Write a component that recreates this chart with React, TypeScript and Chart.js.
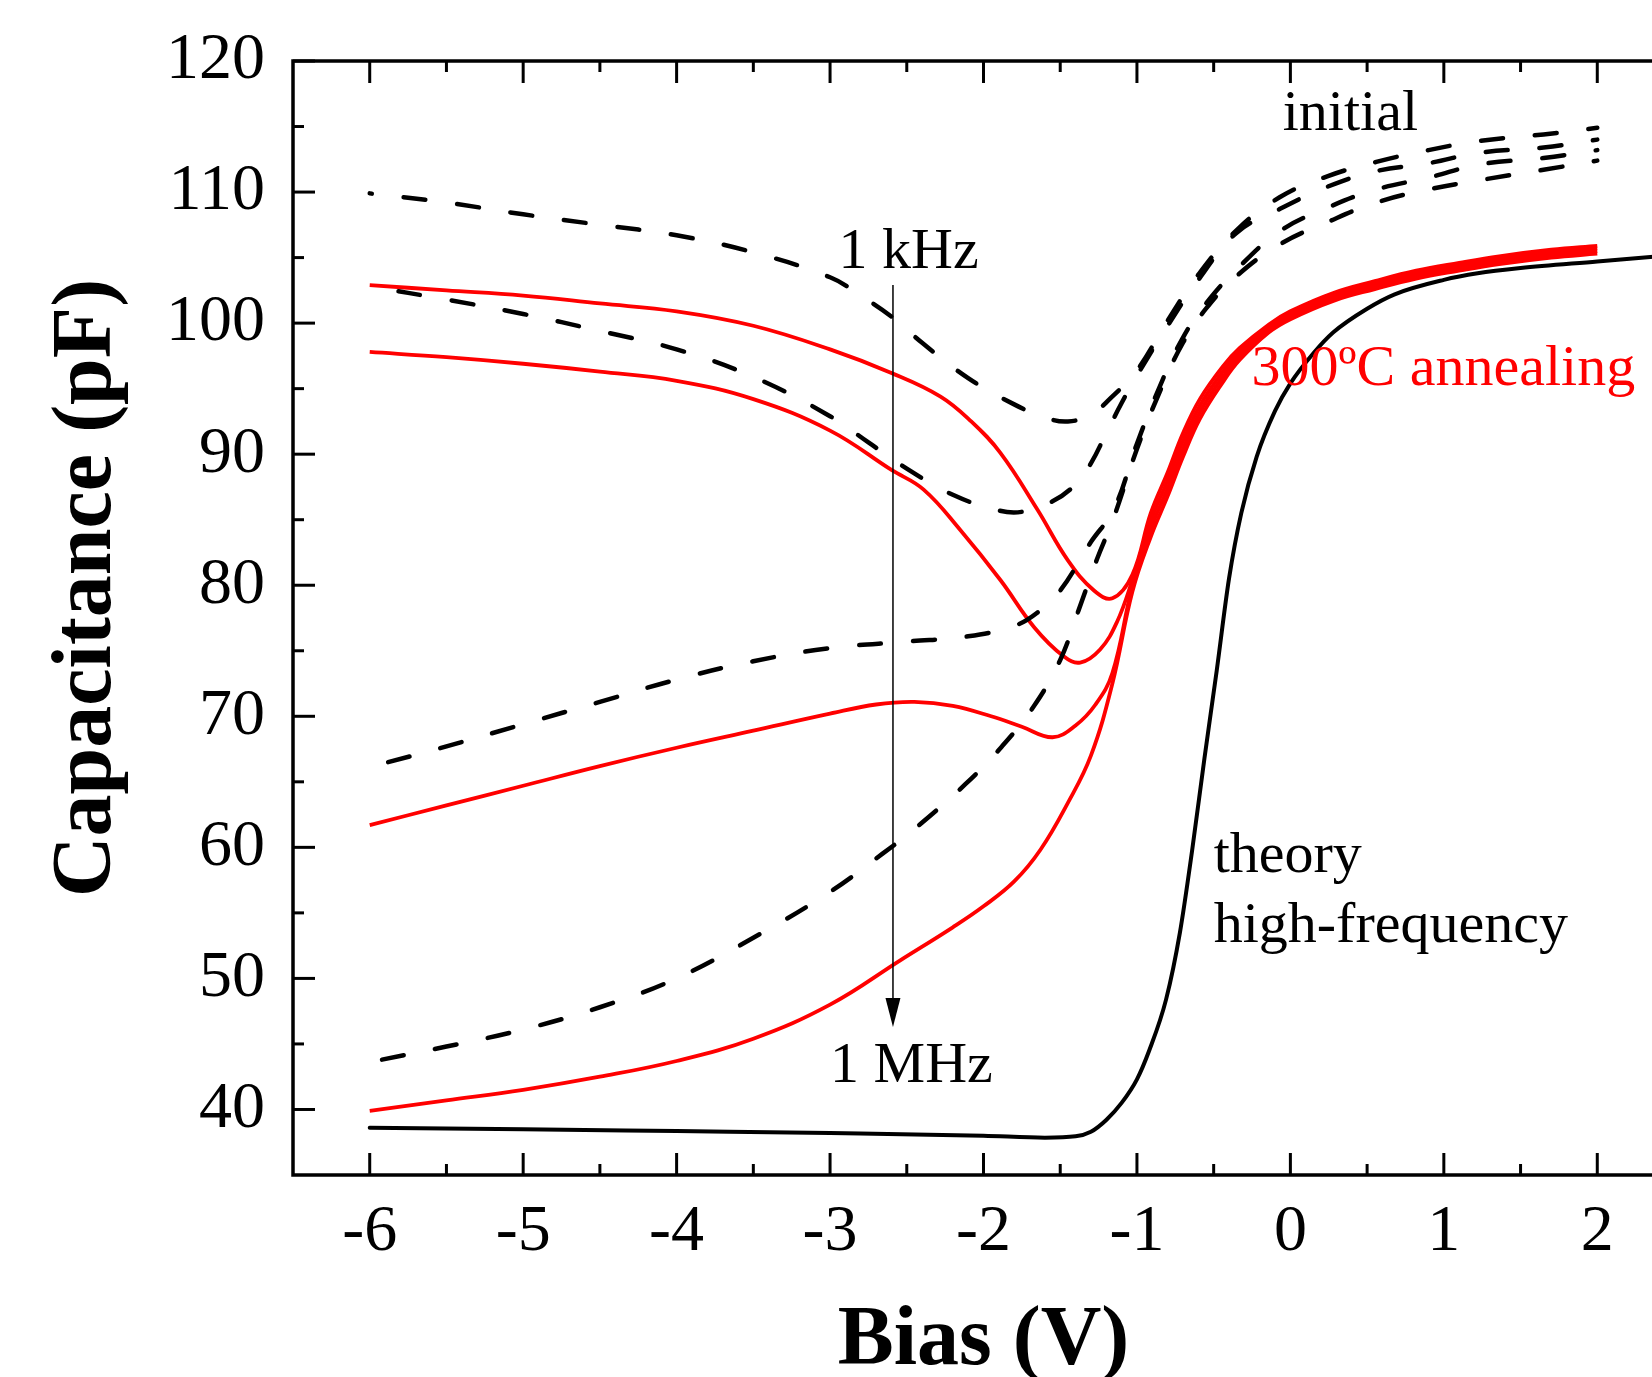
import React, { useEffect, useRef } from 'react';
import { Chart, registerables } from 'chart.js';

Chart.register(...registerables);

// ---- axis ticks ----
const xTickValues = [-6, -5, -4, -3, -2, -1, 0, 1, 2];
const xMinorValues = [-5.5, -4.5, -3.5, -2.5, -1.5, -0.5, 0.5, 1.5];
const yTickValues = [40, 50, 60, 70, 80, 90, 100, 110, 120];
const yMinorValues = [45, 55, 65, 75, 85, 95, 105, 115];

// ---- initial (dashed black), 1 kHz ... 1 MHz ----
const init1kX = [-6, -5.5, -5, -4.5, -4, -3.5, -3, -2.8, -2.6, -2.4, -2.1, -1.8, -1.6, -1.45, -1.3, -1.17, -1.0, -0.8, -0.6, -0.35, -0.07, 0.24, 0.56, 0.9, 1.23, 1.65, 2.0];
const init1kY = [109.9, 109.2, 108.3, 107.5, 106.7, 105.4, 103.5, 102.1, 100.5, 98.5, 95.8, 93.8, 92.8, 92.5, 93.0, 94.3, 96.4, 100.2, 103.7, 107.1, 109.6, 111.2, 112.3, 113.2, 113.9, 114.4, 114.9];

const init10kX = [-6, -5.5, -5, -4.5, -4, -3.5, -3, -2.75, -2.5, -2.2, -1.9, -1.75, -1.55, -1.4, -1.3, -1.2, -1.1, -1.0, -0.8, -0.6, -0.35, -0.07, 0.24, 0.56, 0.9, 1.23, 1.65, 2.0];
const init10kY = [102.8, 101.8, 100.7, 99.4, 98.0, 95.9, 92.9, 90.9, 88.9, 86.9, 85.7, 85.6, 86.4, 87.7, 89.3, 91.6, 93.9, 96.0, 99.8, 103.3, 106.9, 108.7, 110.4, 111.6, 112.2, 113.0, 113.4, 114.0];

const init100kX = [-5.88, -5.5, -5, -4.5, -4, -3.5, -3, -2.5, -2.1, -1.8, -1.65, -1.5, -1.3, -1.15, -1.0, -0.85, -0.7, -0.55, -0.35, -0.07, 0.24, 0.56, 0.9, 1.23, 1.65, 2.0];
const init100kY = [66.5, 67.7, 69.4, 71.1, 72.8, 74.2, 75.2, 75.7, 76.1, 76.9, 77.9, 79.6, 83.3, 85.8, 90.8, 95.2, 98.9, 101.5, 104.1, 107.0, 108.8, 110.2, 111.1, 112.1, 112.6, 113.2];

const init1MX = [-5.92, -5.5, -5, -4.5, -4, -3.5, -3, -2.66, -2.45, -2.12, -1.88, -1.67, -1.5, -1.38, -1.26, -1.15, -1.0, -0.85, -0.7, -0.55, -0.35, -0.07, 0.24, 0.56, 0.9, 1.23, 1.65, 2.0];
const init1MY = [43.8, 44.8, 46.1, 47.8, 50.0, 53.1, 56.6, 59.5, 61.4, 64.8, 67.7, 70.8, 74.3, 78.1, 82.0, 85.2, 90.4, 94.8, 98.5, 101.1, 103.6, 106.0, 107.7, 109.2, 110.2, 110.9, 111.7, 112.4];

// ---- 300 C annealing (solid red), 1 kHz ... 1 MHz ----
const ann1kX = [-6, -5.5, -5, -4.5, -4, -3.5, -3, -2.6, -2.28, -2.08, -1.89, -1.65, -1.45, -1.28, -1.16, -1.03, -0.91, -0.8, -0.7, -0.59, -0.44, -0.33, -0.14, 0, 0.28, 0.55, 0.82, 1.1, 1.36, 1.7, 2.0];
const ann1kY = [102.9, 102.5, 102.1, 101.5, 100.9, 99.8, 98.0, 96.2, 94.4, 92.5, 90.1, 85.8, 81.9, 79.6, 79.0, 80.8, 85.5, 88.6, 91.6, 94.2, 96.7, 98.1, 99.9, 100.9, 102.3, 103.2, 104.0, 104.6, 105.1, 105.6, 105.9];

const ann10kX = [-6, -5.5, -5, -4.5, -4, -3.5, -3, -2.6, -2.39, -2.15, -1.89, -1.67, -1.48, -1.37, -1.24, -1.13, -1.03, -0.91, -0.8, -0.7, -0.59, -0.44, -0.33, -0.14, 0, 0.28, 0.55, 0.82, 1.1, 1.36, 1.7, 2.0];
const ann10kY = [97.8, 97.4, 96.9, 96.3, 95.6, 94.2, 91.8, 88.8, 87.3, 84.2, 80.4, 76.8, 74.6, 74.1, 75.1, 77.2, 80.4, 84.9, 88.0, 91.0, 93.7, 96.3, 97.8, 99.7, 100.7, 102.1, 103.0, 103.8, 104.4, 104.9, 105.4, 105.7];

const ann100kX = [-6, -5.5, -5, -4.5, -4, -3.5, -3, -2.7, -2.45, -2.2, -1.95, -1.75, -1.55, -1.4, -1.27, -1.16, -1.03, -0.91, -0.8, -0.7, -0.59, -0.44, -0.33, -0.14, 0, 0.28, 0.55, 0.82, 1.1, 1.36, 1.7, 2.0];
const ann100kY = [61.7, 63.2, 64.7, 66.2, 67.6, 68.9, 70.2, 70.9, 71.1, 70.8, 70.0, 69.2, 68.4, 69.3, 70.9, 73.3, 79.9, 84.3, 87.4, 90.4, 93.2, 95.9, 97.5, 99.5, 100.5, 101.9, 102.8, 103.6, 104.2, 104.7, 105.2, 105.5];

const ann1MX = [-6, -5.5, -5, -4.5, -4, -3.5, -3, -2.54, -2.2, -2.0, -1.8, -1.63, -1.45, -1.3, -1.16, -1.03, -0.91, -0.8, -0.7, -0.59, -0.44, -0.33, -0.14, 0, 0.28, 0.55, 0.82, 1.1, 1.36, 1.7, 2.0];
const ann1MY = [39.9, 40.7, 41.5, 42.5, 43.7, 45.4, 48.0, 51.4, 53.9, 55.5, 57.4, 59.8, 63.4, 67.0, 72.5, 79.5, 83.7, 86.8, 89.8, 92.7, 95.5, 97.2, 99.3, 100.3, 101.7, 102.6, 103.4, 104.0, 104.5, 105.0, 105.3];

// ---- theory high-frequency (solid black) ----
const theoryX = [-6, -5, -4, -3, -2, -1.6, -1.4, -1.3, -1.2, -1.1, -1.0, -0.92, -0.81, -0.72, -0.64, -0.56, -0.48, -0.4, -0.32, -0.22, -0.1, 0, 0.15, 0.28, 0.5, 0.68, 1.0, 1.22, 1.5, 2.0, 2.5];
const theoryY = [38.6, 38.5, 38.35, 38.2, 38.0, 37.85, 37.95, 38.3, 39.2, 40.5, 42.3, 44.5, 48.4, 53.5, 59.8, 66.8, 73.5, 80.5, 85.5, 89.8, 93.3, 95.4, 97.7, 99.3, 101.1, 102.2, 103.3, 103.8, 104.2, 104.7, 105.2];

// ---- annotations (anchored in data coordinates) ----
const annotations = [
  { text: 'initial', x: -0.05, y: 114.7, color: '#000000' },
  { text: '1 kHz', x: -2.945, y: 104.2, color: '#000000' },
  { text: '1 MHz', x: -3.0, y: 42.1, color: '#000000' },
  { text: '300\u00BAC annealing', x: -0.253, y: 95.3, color: '#ff0000' },
  { text: 'theory', x: -0.5, y: 58.1, color: '#000000' },
  { text: 'high-frequency', x: -0.5, y: 52.8, color: '#000000' },
];
const arrowX = -2.59;
const arrowTop = 102.9;
const arrowTip = 46.3;

const SERIF = "'Liberation Serif', 'Times New Roman', serif";

function pts(xs: number[], ys: number[]) {
  return xs.map((x, i) => ({ x, y: ys[i] }));
}

const framePlugin = {
  id: 'framePlugin',
  afterDraw(chart: any) {
    const { ctx, chartArea: a, scales } = chart;
    const xs = scales.x;
    const ys = scales.y;
    ctx.save();
    ctx.strokeStyle = '#000';
    ctx.fillStyle = '#000';
    ctx.lineWidth = 3.5;
    ctx.strokeRect(a.left, a.top, a.right - a.left, a.bottom - a.top);
    ctx.lineWidth = 3;
    ctx.lineCap = 'butt';
    const seg = (x1: number, y1: number, x2: number, y2: number) => {
      ctx.beginPath();
      ctx.moveTo(x1, y1);
      ctx.lineTo(x2, y2);
      ctx.stroke();
    };
    const MAJ = 22, MIN = 11;
    xTickValues.forEach((v) => {
      const p = xs.getPixelForValue(v);
      seg(p, a.bottom, p, a.bottom - MAJ);
      seg(p, a.top, p, a.top + MAJ);
    });
    xMinorValues.forEach((v) => {
      const p = xs.getPixelForValue(v);
      seg(p, a.bottom, p, a.bottom - MIN);
      seg(p, a.top, p, a.top + MIN);
    });
    yTickValues.forEach((v) => {
      const p = ys.getPixelForValue(v);
      seg(a.left, p, a.left + MAJ, p);
      seg(a.right, p, a.right - MAJ, p);
    });
    yMinorValues.forEach((v) => {
      const p = ys.getPixelForValue(v);
      seg(a.left, p, a.left + MIN, p);
      seg(a.right, p, a.right - MIN, p);
    });

    // annotations
    ctx.font = `58px ${SERIF}`;
    ctx.textAlign = 'left';
    ctx.textBaseline = 'alphabetic';
    annotations.forEach((t) => {
      ctx.fillStyle = t.color;
      ctx.fillText(t.text, xs.getPixelForValue(t.x), ys.getPixelForValue(t.y));
    });

    // arrow
    const ax = xs.getPixelForValue(arrowX);
    const ay0 = ys.getPixelForValue(arrowTop);
    const ay1 = ys.getPixelForValue(arrowTip);
    ctx.strokeStyle = '#000';
    ctx.fillStyle = '#000';
    ctx.lineWidth = 1.5;
    seg(ax, ay0, ax, ay1 - 20);
    ctx.beginPath();
    ctx.moveTo(ax, ay1);
    ctx.lineTo(ax - 7.5, ay1 - 29);
    ctx.lineTo(ax + 7.5, ay1 - 29);
    ctx.closePath();
    ctx.fill();

    // axis titles
    ctx.font = `bold 84px ${SERIF}`;
    ctx.textAlign = 'center';
    ctx.textBaseline = 'alphabetic';
    ctx.fillText('Bias (V)', (a.left + a.right) / 2, 1364);
    ctx.translate(110, 588);
    ctx.rotate(-Math.PI / 2);
    ctx.fillText('Capacitance (pF)', 0, 0);
    ctx.restore();
  },
};

export default function App() {
  const ref = useRef<HTMLCanvasElement | null>(null);
  useEffect(() => {
    if (!ref.current) return;
    document.body.style.margin = '0';
    document.body.style.overflow = 'hidden';
    const dashed = (xs: number[], ys: number[], offset: number) => ({
      data: pts(xs, ys),
      showLine: true,
      borderColor: '#000000',
      borderWidth: 4.5,
      borderDash: [22, 32],
      borderDashOffset: offset,
      borderCapStyle: 'round' as const,
      pointRadius: 0,
      tension: 0.4,
      fill: false,
    });
    const red = (xs: number[], ys: number[]) => ({
      data: pts(xs, ys),
      showLine: true,
      borderColor: '#ff0000',
      borderWidth: 3.8,
      pointRadius: 0,
      borderCapStyle: 'butt' as const,
      tension: 0.4,
      fill: false,
    });
    const chart = new Chart(ref.current, {
      type: 'scatter',
      data: {
        datasets: [
          dashed(init1kX, init1kY, 20),
          dashed(init10kX, init10kY, 25),
          dashed(init100kX, init100kY, 0),
          dashed(init1MX, init1MY, 0),
          red(ann1kX, ann1kY),
          red(ann10kX, ann10kY),
          red(ann100kX, ann100kY),
          red(ann1MX, ann1MY),
          {
            data: pts(theoryX, theoryY),
            showLine: true,
            borderColor: '#000000',
            borderWidth: 4,
            borderCapStyle: 'round' as const,
            pointRadius: 0,
            cubicInterpolationMode: 'monotone' as const,
            fill: false,
          },
        ],
      },
      options: {
        responsive: false,
        animation: false,
        devicePixelRatio: 1,
        layout: { padding: { left: 0, top: 61, right: 46, bottom: 0 } },
        plugins: { legend: { display: false }, tooltip: { enabled: false } },
        scales: {
          x: {
            type: 'linear',
            min: -6.5,
            max: 2.5,
            afterFit: (s: any) => { s.height = 202; s.paddingLeft = 0; s.paddingRight = 0; },
            afterBuildTicks: (s: any) => { s.ticks = xTickValues.map((v) => ({ value: v })); },
            grid: { display: false, drawTicks: false },
            border: { display: false },
            ticks: {
              color: '#000',
              padding: 18,
              maxRotation: 0,
              autoSkip: false,
              font: { family: SERIF, size: 66 },
              callback: (v: any) => String(v),
            },
          },
          y: {
            type: 'linear',
            min: 35,
            max: 120,
            afterFit: (s: any) => { s.width = 293; s.paddingTop = 0; s.paddingBottom = 0; },
            afterBuildTicks: (s: any) => { s.ticks = yTickValues.map((v) => ({ value: v })); },
            grid: { display: false, drawTicks: false },
            border: { display: false },
            ticks: {
              color: '#000',
              padding: 28,
              autoSkip: false,
              font: { family: SERIF, size: 66 },
              callback: (v: any) => String(v),
            },
          },
        },
      },
      plugins: [framePlugin],
    });
    return () => chart.destroy();
  }, []);
  return (
    <div style={{ position: 'fixed', left: 0, top: 0, width: 1652, height: 1377, overflow: 'hidden', background: '#ffffff' }}>
      <canvas ref={ref} width={1720} height={1377} style={{ display: 'block', width: 1720, height: 1377 }} />
    </div>
  );
}
